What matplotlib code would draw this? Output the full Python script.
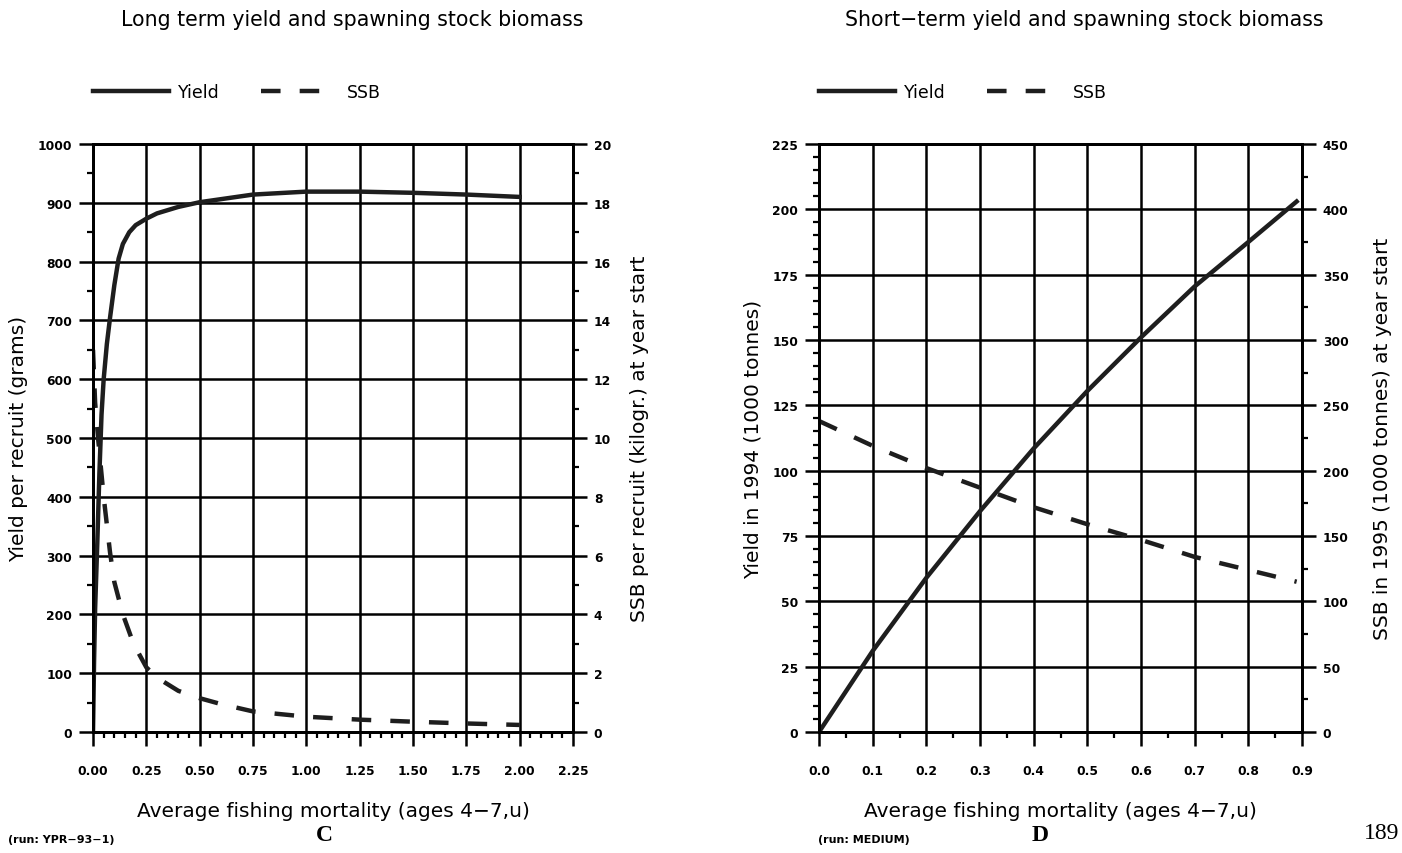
import matplotlib.pyplot as plt
from matplotlib.ticker import MultipleLocator, FormatStrFormatter

plt.rcParams['font.family'] = 'DejaVu Sans'

# ---- Panel C: long term yield and SSB per recruit ----
f_long_yield = [0, 0.005, 0.01, 0.02, 0.03, 0.04, 0.05, 0.065, 0.08, 0.1, 0.12,
                0.14, 0.17, 0.2, 0.25, 0.3, 0.4, 0.5, 0.75, 1.0, 1.25, 1.5, 1.75, 2.0]
yield_per_recruit = [0, 120, 210, 320, 440, 540, 600, 660, 705, 760, 805,
                     830, 850, 862, 873, 882, 893, 901, 914, 919, 919, 917, 914, 910]

f_long_ssb = [0, 0.01, 0.025, 0.05, 0.08, 0.1, 0.14, 0.19, 0.25, 0.3, 0.4,
              0.5, 0.6, 0.75, 1.0, 1.25, 1.5, 1.75, 2.0]
ssb_per_recruit = [13.0, 11.2, 9.9, 8.0, 6.1, 5.1, 4.0, 3.0, 2.2, 1.85, 1.4,
                   1.15, 0.95, 0.7, 0.52, 0.42, 0.35, 0.29, 0.24]

# ---- Panel D: short term yield 1994 and SSB 1995 ----
f_short = [0.0, 0.1, 0.2, 0.3, 0.4, 0.5, 0.6, 0.7, 0.8, 0.89]
yield_1994 = [0, 31, 59, 84.5, 108.5, 130.5, 151, 170.5, 187.5, 203]
ssb_1995 = [238, 219, 202, 187, 172, 159, 147, 134, 124, 115]

W, H = 1402, 854
fig = plt.figure(figsize=(W / 100, H / 100), dpi=100)

ink = '#1e1e1e'
line_w = 3.2
dash = (4.4, 4.3)


def style_axes(ax, ax2, xmax, xmajor, xminor, xfmt, ymax, ymajor, yminor,
               y2max, y2major, y2minor):
    ax.set_xlim(0, xmax)
    ax.set_ylim(0, ymax)
    ax2.set_ylim(0, y2max)
    ax.xaxis.set_major_locator(MultipleLocator(xmajor))
    ax.xaxis.set_minor_locator(MultipleLocator(xminor))
    ax.xaxis.set_major_formatter(FormatStrFormatter(xfmt))
    ax.yaxis.set_major_locator(MultipleLocator(ymajor))
    ax.yaxis.set_minor_locator(MultipleLocator(yminor))
    ax2.yaxis.set_major_locator(MultipleLocator(y2major))
    ax2.yaxis.set_minor_locator(MultipleLocator(y2minor))
    ax.grid(True, which='major', color='black', lw=1.8)
    for a in (ax, ax2):
        for s in a.spines.values():
            s.set_linewidth(2.0)
        a.tick_params(which='major', direction='out', length=10, width=1.8,
                      labelsize=8.8, colors='black')
        a.tick_params(which='minor', direction='out', length=4.5, width=1.6)
        for lab in a.get_xticklabels() + a.get_yticklabels():
            lab.set_fontweight('bold')
    ax.tick_params(axis='x', which='major', pad=13)
    ax.tick_params(axis='y', pad=5)
    ax2.tick_params(axis='y', pad=5)


def add_legend(ax, handles):
    ax.legend(handles, ['Yield', 'SSB'], loc='center left',
              bbox_to_anchor=(0, 1.088), ncol=2, frameon=False,
              borderpad=0, borderaxespad=0, fontsize=12.5,
              handlelength=4.4, handletextpad=0.5, columnspacing=2.4)


# ---------------- left panel ----------------
axC = fig.add_axes([93 / W, 121 / H, 480 / W, 588 / H])
axC2 = axC.twinx()
y_line, = axC.plot(f_long_yield, yield_per_recruit, color=ink, lw=line_w,
                   solid_joinstyle='round')
s_line, = axC2.plot(f_long_ssb, ssb_per_recruit, color=ink, lw=line_w,
                    dashes=dash)
style_axes(axC, axC2, 2.25, 0.25, 0.05, '%.2f', 1000, 100, 50, 20, 2, 1)
axC.set_ylabel('Yield per recruit (grams)', fontsize=14.5)
axC.yaxis.set_label_coords(-0.135, 0.5)
axC2.set_ylabel('SSB per recruit (kilogr.) at year start', fontsize=14.5)
axC2.yaxis.set_label_coords(1.119, 0.5)
axC.set_xlabel('Average fishing mortality (ages 4\u22127,u)', fontsize=14.5)
axC.xaxis.set_label_coords(0.5, -0.117)
add_legend(axC, [y_line, s_line])

# ---------------- right panel ----------------
axD = fig.add_axes([819 / W, 121 / H, 483 / W, 588 / H])
axD2 = axD.twinx()
y_line2, = axD.plot(f_short, yield_1994, color=ink, lw=line_w)
s_line2, = axD2.plot(f_short, ssb_1995, color=ink, lw=line_w, dashes=dash)
style_axes(axD, axD2, 0.9, 0.1, 0.05, '%.1f', 225, 25, 5, 450, 50, 25)
axD.set_ylabel('Yield in 1994 (1000 tonnes)', fontsize=14.5)
axD.yaxis.set_label_coords(-0.116, 0.5)
axD2.set_ylabel('SSB in 1995 (1000 tonnes) at year start', fontsize=14.5)
axD2.yaxis.set_label_coords(1.147, 0.5)
axD.set_xlabel('Average fishing mortality (ages 4\u22127,u)', fontsize=14.5)
axD.xaxis.set_label_coords(0.5, -0.117)
add_legend(axD, [y_line2, s_line2])

# titles and page annotations
fig.text(352 / W, 1 - 20 / H, 'Long term yield and spawning stock biomass',
         ha='center', va='center', fontsize=14.8)
fig.text(1084 / W, 1 - 20 / H, 'Short\u2212term yield and spawning stock biomass',
         ha='center', va='center', fontsize=14.8)
fig.text(8 / W, 1 - 840 / H, '(run: YPR\u221293\u22121)', ha='left', va='center',
         fontsize=8, fontweight='bold')
fig.text(818 / W, 1 - 840 / H, '(run: MEDIUM)', ha='left', va='center',
         fontsize=8, fontweight='bold')
fig.text(324 / W, 1 - 836 / H, 'C', ha='center', va='center', fontsize=17,
         family='Liberation Serif', fontweight='bold')
fig.text(1040 / W, 1 - 836 / H, 'D', ha='center', va='center', fontsize=17,
         family='Liberation Serif', fontweight='bold')
fig.text(1399 / W, 1 - 834 / H, '189', ha='right', va='center', fontsize=17,
         family='Liberation Serif')

fig.savefig('out.png', dpi=100)
